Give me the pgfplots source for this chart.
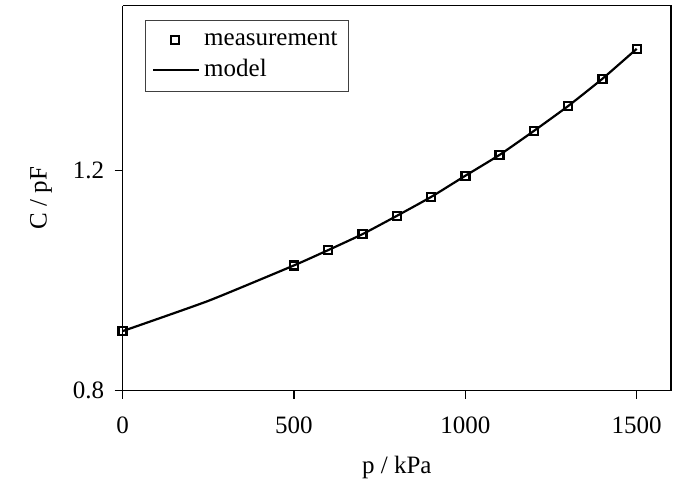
\documentclass[border=0pt]{standalone}
\usepackage{fontspec}
\setmainfont{Liberation Serif}
\usepackage{pgfplots}
\pgfplotsset{compat=1.18}

\begin{document}
\fontsize{25}{30}\selectfont
\begin{tikzpicture}
  \begin{axis}[
    name=main,
    scale only axis,
    width=548.5pt, height=385pt,
    xmin=0, xmax=1600,
    ymin=0.8, ymax=1.5,
    xtick={0,500,1000,1500},
    ytick={0.8,1.2},
    yticklabel style={/pgf/number format/fixed, /pgf/number format/precision=1,
                      /pgf/number format/fixed zerofill},
    /pgf/number format/1000 sep={},
    /pgf/number format/assume math mode=true,
    axis x line*=bottom, axis y line*=left,
    axis line style={line width=1.5pt, -},
    tick style={black, line width=1.2pt},
    tick align=outside,
    major tick length=8pt,
    xticklabel style={yshift=-10pt},
    yticklabel style={xshift=-2pt},
    xlabel={p / kPa},
    ylabel={C / pF},
    xlabel style={yshift=-5pt},
    ylabel style={yshift=4pt},
    legend style={at={(0.04,0.963)}, anchor=north west,
                  draw=black!75, line width=1pt, font=\fontsize{25}{30}\selectfont,
                  inner xsep=7pt, inner ysep=9pt, row sep=6pt,
                  nodes={inner xsep=4pt}},
    legend cell align=left,
  ]
    \addplot[only marks, mark=square, mark size=4pt,
             mark options={line width=2.4pt, black, fill=white},
             legend image code/.code={\draw[line width=2.4pt, black, fill=white]
               (18pt,-4pt) rectangle (26pt,4pt);
               \path[draw=none] (0pt,0pt) -- (46pt,0pt);}]
      coordinates {
        (0,0.908) (500,1.0275) (600,1.0554) (700,1.0844) (800,1.1176)
        (900,1.152) (1000,1.1906) (1100,1.2286) (1200,1.2721)
        (1300,1.3174) (1400,1.367) (1500,1.4214)
      };
    \addlegendentry{measurement}
    \addplot[black, line width=2.2pt, smooth, tension=0.3,
             legend image code/.code={\draw[line width=2.2pt, black]
               (0pt,0pt) -- (46pt,0pt);}]
      coordinates {
        (0,0.908) (250,0.963) (500,1.0275) (600,1.0554) (700,1.0844)
        (800,1.1176) (900,1.152) (1000,1.1906) (1100,1.2286)
        (1200,1.2721) (1300,1.3174) (1400,1.367) (1500,1.4214)
      };
    \addlegendentry{model}
  \end{axis}
  \draw[line width=1.5pt] (main.north west) -- (main.north east) -- (main.south east);
  \path (main.south west) ++(-122.65pt,-93pt) coordinate (bl);
  \path (main.north east) ++(9pt,5.6pt) coordinate (tr);
  \path[use as bounding box] (bl) rectangle (tr);
\end{tikzpicture}
\end{document}
